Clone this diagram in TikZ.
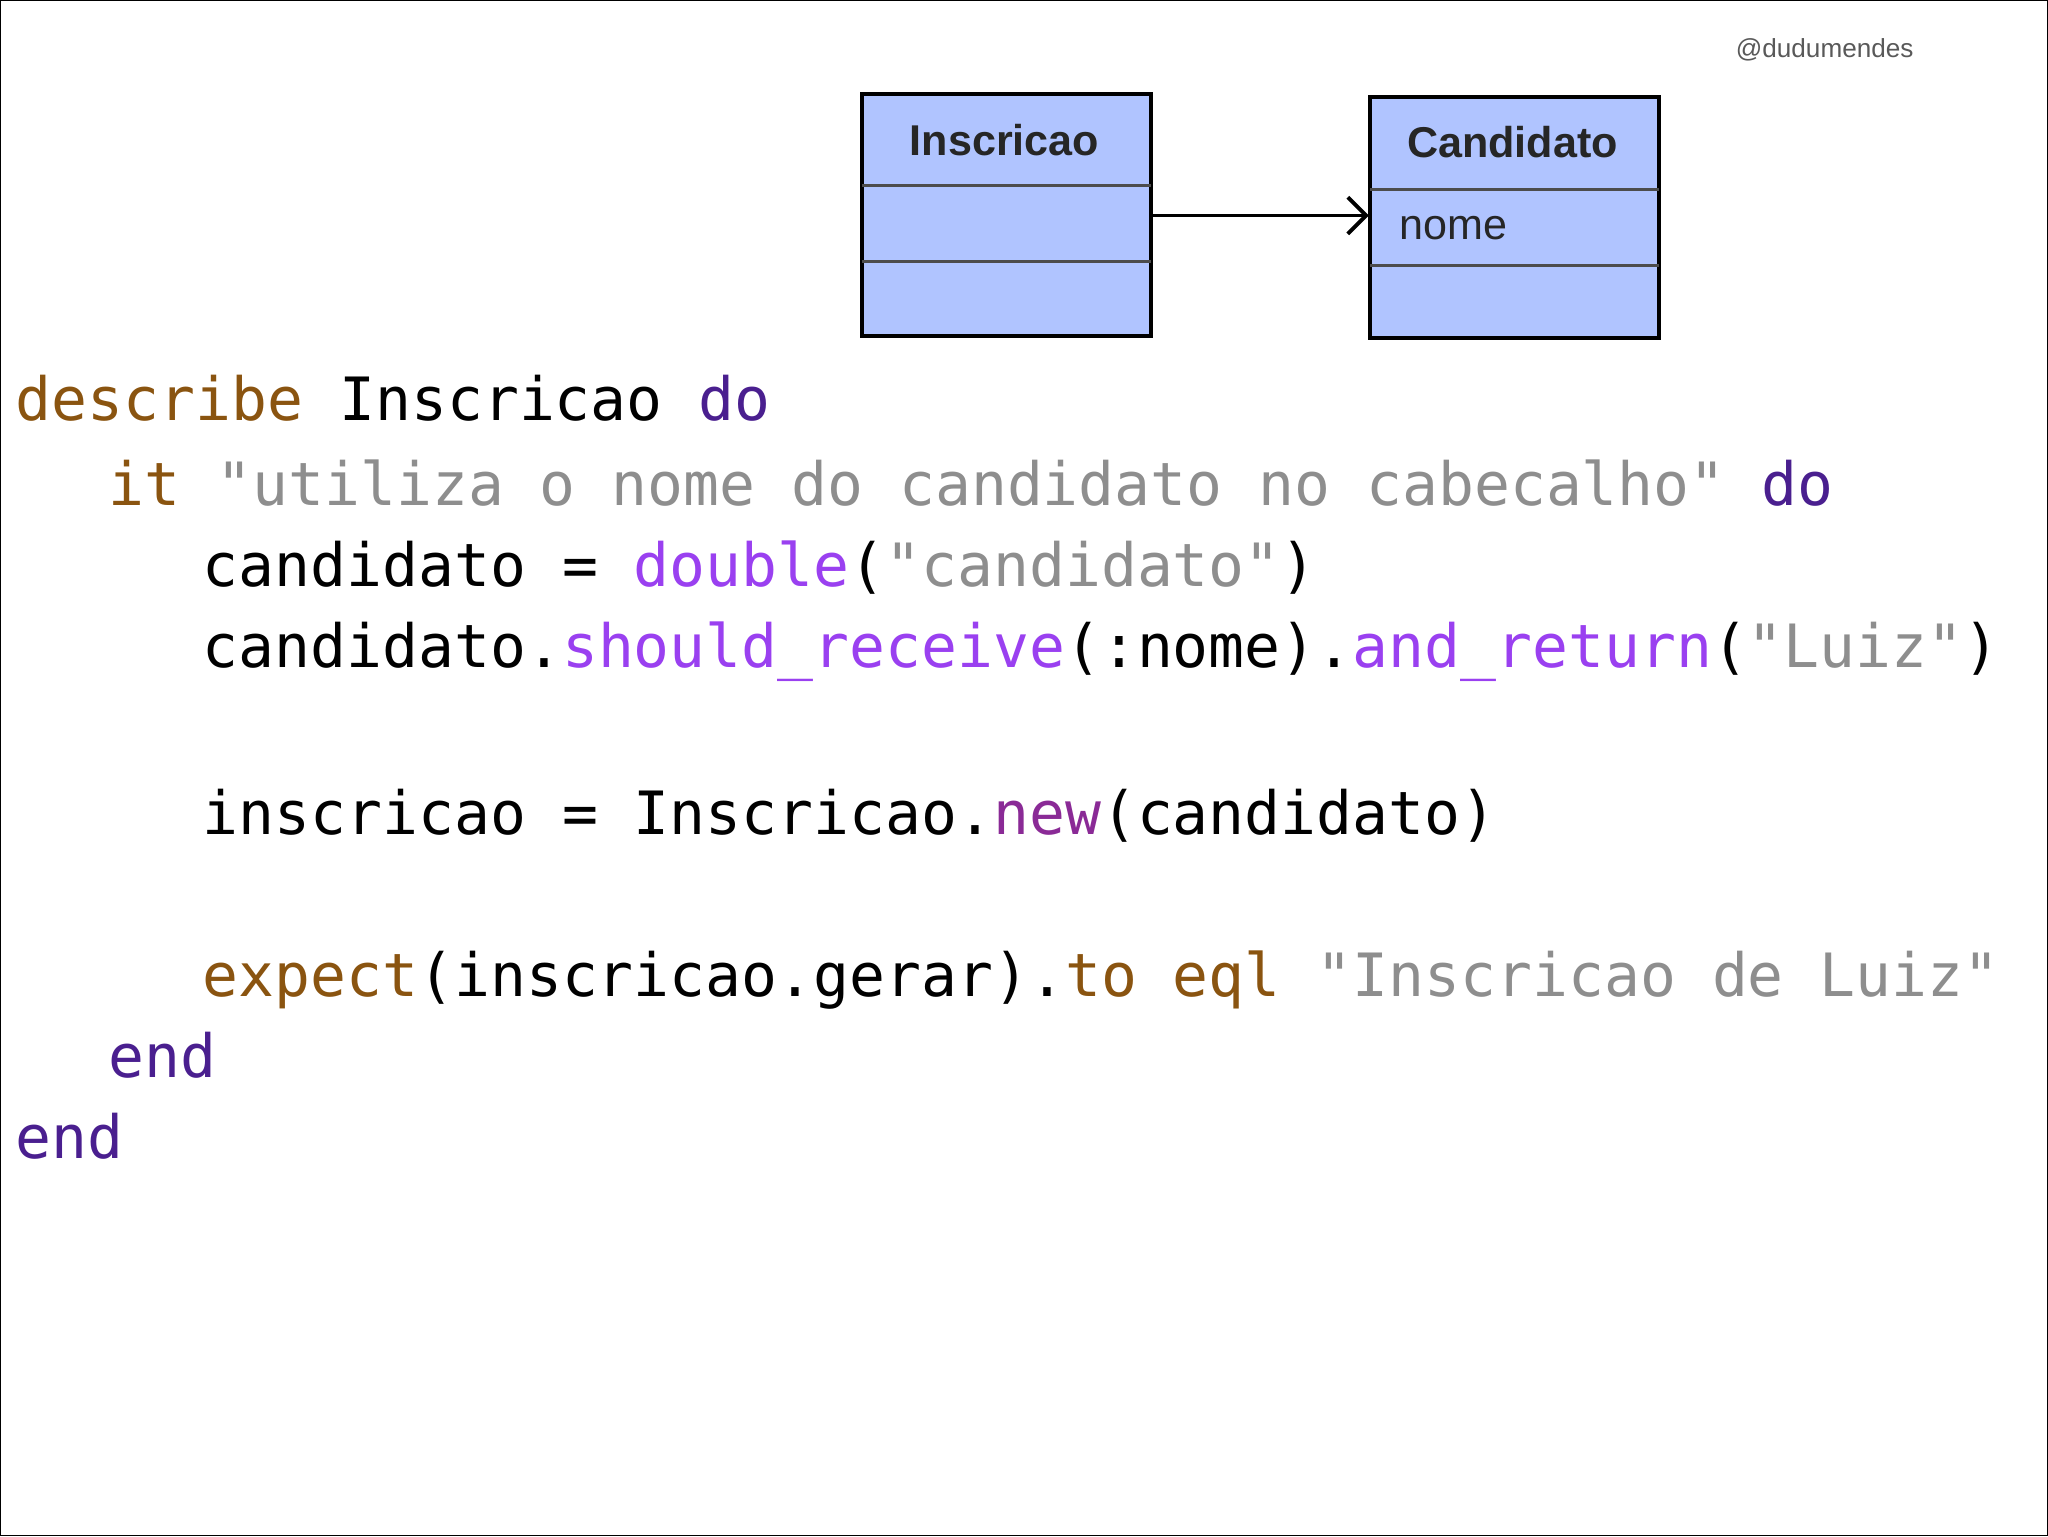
\documentclass[tikz,border=0pt]{standalone}
\usepackage{fontspec}
\setmainfont{Liberation Sans}
\setmonofont{DejaVu Sans Mono}
\usetikzlibrary{arrows.meta}
\definecolor{kw}{HTML}{8A5410}
\definecolor{dk}{HTML}{4A1F8F}
\definecolor{st}{HTML}{8E8E8E}
\definecolor{me}{HTML}{9A40F0}
\definecolor{nw}{HTML}{8A2A96}
\definecolor{uml}{HTML}{B0C4FF}
\tikzset{code/.style={anchor=base west,inner sep=0pt,font=\fontsize{45.7}{50}\selectfont\ttfamily},
umlbox/.style={draw=black,line width=3pt,fill=uml},
sep/.style={draw=black!70,line width=2.5pt},
title/.style={font=\fontsize{33}{36}\selectfont\bfseries,text=black!85}}
\begin{document}
\begin{tikzpicture}[x=1pt,y=-1pt]
\useasboundingbox (0,0) rectangle (1568,1176);
\draw[black,line width=1pt] (0.5,0.5) rectangle (1567.5,1175.5);
\node[font=\fontsize{20}{22}\selectfont,text=black!65] (tag) at (1397,38) {@dudumendes};
% UML
\draw[umlbox] (660,72) rectangle (881,257);
\draw[sep] (660,142) -- (881,142); \draw[sep] (660,200) -- (881,200);
\node[title] (ins) at (769,107) {Inscricao};
\draw[umlbox] (1049,74) rectangle (1270,259);
\draw[sep] (1049,145) -- (1270,145); \draw[sep] (1049,203) -- (1270,203);
\node[title] (cand) at (1158,109) {Candidato};
\node[font=\fontsize{33}{36}\selectfont,text=black!85,anchor=west] (nome) at (1068,175) {nome};
\coordinate (a1) at (882,165); \coordinate (a2) at (1048,165);
\draw[line width=3pt,-{Straight Barb[length=14pt,width=28pt,line width=3pt]}] (a1) -- (a2);
% code
\node[code] (l1) at (12,322) {\textcolor{kw}{describe} Inscricao \textcolor{dk}{do}};
\node[code] (l2) at (83,387) {\textcolor{kw}{it} \textcolor{st}{"utiliza o nome do candidato no cabecalho"} \textcolor{dk}{do}};
\node[code] (l3) at (155,449) {candidato = \textcolor{me}{double}(\textcolor{st}{"candidato"})};
\node[code] (l4) at (155,511) {candidato.\textcolor{me}{should\_receive}(:nome).\textcolor{me}{and\_return}(\textcolor{st}{"Luiz"})};
\node[code] (l5) at (155,639) {inscricao = Inscricao.\textcolor{nw}{new}(candidato)};
\node[code] (l6) at (155,763) {\textcolor{kw}{expect}(inscricao.gerar).\textcolor{kw}{to} \textcolor{kw}{eql} \textcolor{st}{"Inscricao de Luiz"}};
\node[code] (l7) at (83,825) {\textcolor{dk}{end}};
\node[code] (l8) at (12,887) {\textcolor{dk}{end}};
\end{tikzpicture}
\end{document}
